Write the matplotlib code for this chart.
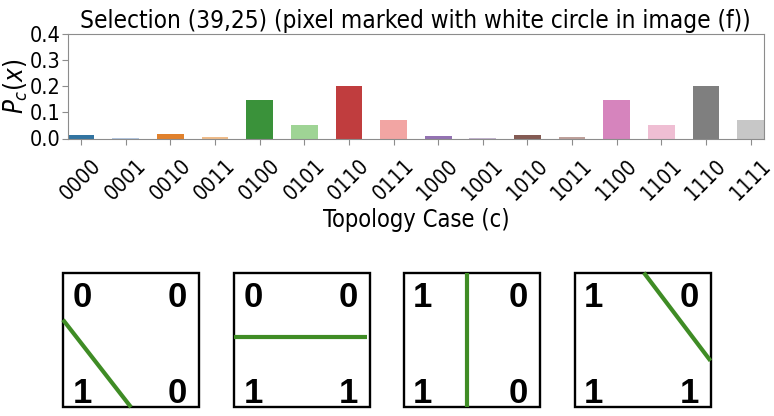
import matplotlib
matplotlib.use("Agg")
import matplotlib.pyplot as plt
import numpy as np
import seaborn as sns

categories = ["0000", "0001", "0010", "0011", "0100", "0101", "0110", "0111",
              "1000", "1001", "1010", "1011", "1100", "1101", "1110", "1111"]
values = [0.013, 0.003, 0.018, 0.004, 0.147, 0.051, 0.200, 0.071,
          0.010, 0.003, 0.015, 0.004, 0.147, 0.051, 0.200, 0.071]
title = "Selection (39,25) (pixel marked with white circle in image (f))"
ylabel = "$P_c(x)$"
xlabel = "Topology Case (c)"
yticks = [0.0, 0.1, 0.2, 0.3, 0.4]

# diagram panels: corner labels (TL, TR, BL, BR) and green line endpoints (box fractions, y down)
panel_labels = [("0", "0", "1", "0"), ("0", "0", "1", "1"),
                ("1", "0", "1", "0"), ("1", "0", "1", "1")]
panel_lines = [((0.0, 0.35), (0.50, 1.0)),
               ((0.0, 0.478), (0.98, 0.478)),
               ((0.47, 0.0), (0.47, 1.0)),
               ((0.51, 0.0), (1.0, 0.655))]

plt.rcParams["font.stretch"] = "condensed"
plt.rcParams["mathtext.fontset"] = "dejavusans"

W, H = 774, 416
fig = plt.figure(figsize=(W / 100, H / 100), dpi=100)

ax = fig.add_axes([67.7 / W, 1 - 138.5 / H, (764 - 67.7) / W, (138.5 - 34) / H])
cmap = plt.get_cmap("tab20")
colors = [sns.desaturate(cmap(i), 0.75) for i in range(len(categories))]
x = np.arange(len(categories))
ax.bar(x, values, width=0.6, color=colors)
ax.set_xlim(-0.3, len(categories) - 0.7)
ax.set_ylim(0, 0.4)
ax.set_yticks(yticks)
ax.set_yticklabels([f"{t:.1f}" for t in yticks], fontsize=15.5, stretch="condensed")
ax.set_xticks(x)
ax.set_xticklabels(categories, rotation=45, fontsize=15.3, ha="center", va="top",
                   stretch="condensed")
ax.set_title(title, fontsize=17.5, pad=4, stretch="condensed")
ax.set_ylabel(ylabel, fontsize=18.5, labelpad=0)
ax.set_xlabel(xlabel, fontsize=17, labelpad=3, stretch="condensed")
for s in ax.spines.values():
    s.set_color("0.55")
ax.tick_params(colors="0.55", labelcolor="black", length=4, width=0.8)
ax.tick_params(axis="x", pad=8.5)
ax.tick_params(axis="y", pad=1)

# diagram panels in pixel coordinates
dax = fig.add_axes([0, 0, 1, 1])
dax.set_xlim(0, W)
dax.set_ylim(H, 0)
dax.axis("off")
box_left = [63, 234, 403.5, 574.5]
box_top, box_w, box_h = 272.7, 136, 134.5
green = "#3f8c25"
for bl, labs, ln in zip(box_left, panel_labels, panel_lines):
    dax.add_patch(plt.Rectangle((bl, box_top), box_w, box_h, fill=False,
                                edgecolor="black", linewidth=1.7))
    (x0, y0), (x1, y1) = ln
    dax.plot([bl + x0 * box_w, bl + x1 * box_w],
             [box_top + y0 * box_h, box_top + y1 * box_h],
             color=green, linewidth=3, solid_capstyle="butt")
    tl, tr, bl_, br = labs
    kw = dict(fontsize=25, fontweight="bold", family="Liberation Sans",
              stretch="normal", color="black", ha="center", va="baseline")
    xl, xr = bl + 19.2, bl + 114.6
    yt, yb = box_top + 34, box_top + 130.5
    dax.text(xl, yt, tl, **kw)
    dax.text(xr, yt, tr, **kw)
    dax.text(xl, yb, bl_, **kw)
    dax.text(xr, yb, br, **kw)

fig.savefig("out.png", dpi=100)
